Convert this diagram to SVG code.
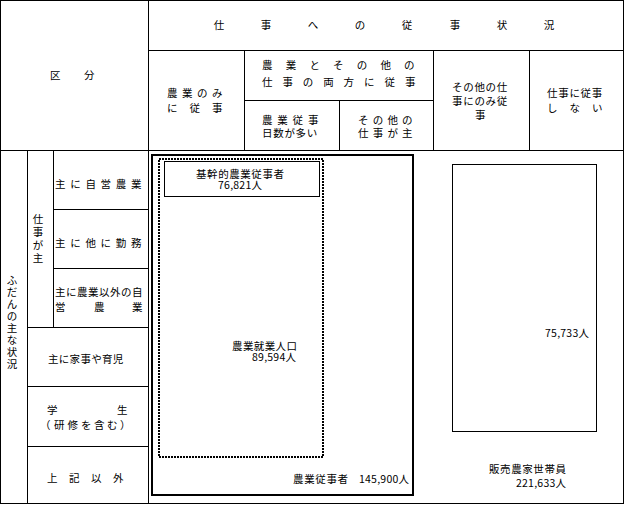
<svg xmlns="http://www.w3.org/2000/svg" width="625" height="505" viewBox="0 0 625 505">
<style>
  .t { font-family: "Noto Sans CJK JP", "Noto Sans", sans-serif; font-size: 10.5px; fill: #000; }
  .c { text-anchor: middle; }
  .ln { stroke: #000; stroke-width: 1; fill: none; }
</style>
<rect x="0" y="0" width="625" height="505" fill="#fff"/>
<g id="grid" class="ln">
  <rect x="0.5" y="0.5" width="623" height="503"/>
  <line x1="148.5" y1="0" x2="148.5" y2="504"/>
  <line x1="148" y1="50.5" x2="624" y2="50.5"/>
  <line x1="0" y1="150.5" x2="624" y2="150.5"/>
  <line x1="244.5" y1="50" x2="244.5" y2="150"/>
  <line x1="244" y1="100.5" x2="433" y2="100.5"/>
  <line x1="339.5" y1="100" x2="339.5" y2="150"/>
  <line x1="433.5" y1="50" x2="433.5" y2="150"/>
  <line x1="529.5" y1="50" x2="529.5" y2="150"/>
  <line x1="27.5" y1="150" x2="27.5" y2="504"/>
  <line x1="53.5" y1="150" x2="53.5" y2="327"/>
  <line x1="53" y1="209.5" x2="148" y2="209.5"/>
  <line x1="53" y1="268.5" x2="148" y2="268.5"/>
  <line x1="27" y1="327.5" x2="148" y2="327.5"/>
  <line x1="27" y1="386.5" x2="148" y2="386.5"/>
  <line x1="27" y1="446.5" x2="148" y2="446.5"/>
</g>
<g id="connectors"></g>
<g id="header-kubun" class="t">
  <text x="50 84" y="79">区分</text>
</g>
<g id="header-status" class="t c">
  <text x="219 266 313 360 407 455 502 549" y="29">仕事への従事状況</text>
</g>
<g id="header-nogyo-nomi" class="t">
  <text x="167 182 197 212" y="96.5">農業のみ</text>
  <text x="167 189.5 212" y="111.5">に従事</text>
</g>
<g id="header-ryoho" class="t">
  <text x="262 285.7 309.4 333.1 356.8 380.5 404" y="68.5">農業とその他の</text>
  <text x="262 282.4 302.8 323.2 343.6 364 384.4 405" y="85.5">仕事の両方に従事</text>
</g>
<g id="header-nogyo-ooi" class="t">
  <text x="262 277.3 292.6 308" y="123.5">農業従事</text>
  <text x="262 273.2 284.4 295.6 306.8" y="137">日数が多い</text>
</g>
<g id="header-sonota-shu" class="t">
  <text x="358 372.7 387.4 402" y="123.5">その他の</text>
  <text x="358 372.7 387.4 402" y="137">仕事が主</text>
</g>
<g id="header-sonota-nomi" class="t">
  <text x="452 463.2 474.4 485.6 496.8" y="90.5">その他の仕</text>
  <text x="452 463.2 474.4 485.6 496.8" y="104.5">事にのみ従</text>
  <text x="475" y="118.5">事</text>
</g>
<g id="header-shinai" class="t">
  <text x="547 558.2 569.4 580.6 591.8" y="96.5">仕事に従事</text>
  <text x="547 569.5 592" y="111.5">しない</text>
</g>
<g id="side-fudan" class="t c">
  <text x="12 12 12 12 12 12 12 12" y="283.5 295.5 307.5 319.5 331.5 343.5 355.5 367.5">ふだんの主な状況</text>
</g>
<g id="side-shigoto" class="t c">
  <text x="38 38 38 38" y="222.5 235.5 248.5 261.5">仕事が主</text>
</g>
<g id="row-jiei" class="t">
  <text x="55 70.2 85.4 100.6 115.8 131" y="187.5">主に自営農業</text>
</g>
<g id="row-kinmu" class="t">
  <text x="55 70.2 85.4 100.6 115.8 131" y="246.5">主に他に勤務</text>
</g>
<g id="row-igai-jiei" class="t">
  <text x="55 66 77 88 99 110 121 132" y="295.5">主に農業以外の自</text>
  <text x="55 94 132" y="310.5">営農業</text>
</g>
<g id="row-kaji" class="t">
  <text x="48 58.8 69.6 80.4 91.2 102 112.8" y="362.5">主に家事や育児</text>
</g>
<g id="row-gakusei" class="t">
  <text x="47 117" y="413.5">学生</text>
  <text x="40 54 67.5 81 94 107 120" y="428.5">（研修を含む）</text>
</g>
<g id="row-joki" class="t">
  <text x="47 69 91 113" y="481.5">上記以外</text>
</g>
<g id="hanbai-nouka">
  <rect x="452.5" y="164.5" width="144" height="267" class="ln"/>
  <text class="t" x="545" y="336.5" textLength="44" lengthAdjust="spacing">75,733人</text>
  <text class="t" x="489" y="472.5" textLength="77" lengthAdjust="spacing">販売農家世帯員</text>
  <text class="t" x="516" y="487" textLength="50" lengthAdjust="spacing">221,633人</text>
</g>
<g id="nogyo-juji">
  <rect x="152" y="155" width="261" height="340" fill="none" stroke="#000" stroke-width="2"/>
  <text class="t" x="293" y="482.5" textLength="55" lengthAdjust="spacing">農業従事者</text>
  <text class="t" x="359" y="482.5" textLength="50" lengthAdjust="spacing">145,900人</text>
</g>
<g id="nogyo-shugyo">
  <rect x="159" y="159" width="164" height="298" fill="none" stroke="#000" stroke-width="2" stroke-dasharray="2 1"/>
  <text class="t"><tspan x="232" y="350" textLength="65" lengthAdjust="spacing">農業就業人口</tspan><tspan x="252" y="361" textLength="44" lengthAdjust="spacing">89,594人</tspan></text>
</g>
<g id="kikanteki">
  <rect x="164.5" y="161.5" width="155" height="35" class="ln" fill="#fff"/>
  <text class="t"><tspan x="196" y="177.5" textLength="88" lengthAdjust="spacing">基幹的農業従事者</tspan><tspan x="218" y="189" textLength="44" lengthAdjust="spacing">76,821人</tspan></text>
</g>
</svg>
